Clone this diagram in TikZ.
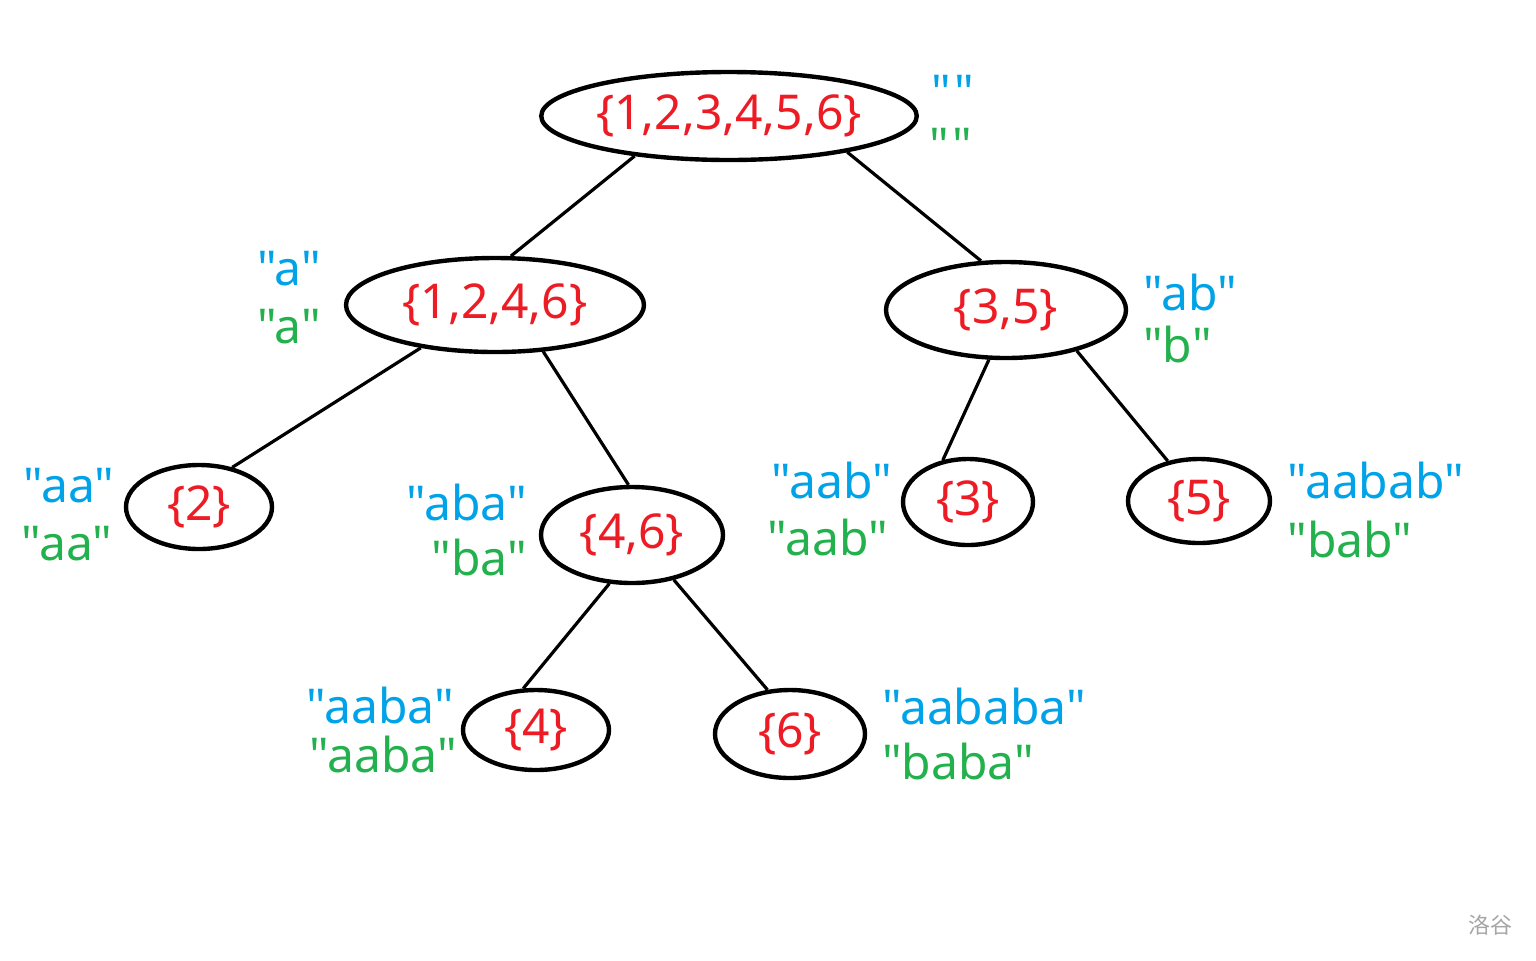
\documentclass[tikz,border=0pt]{standalone}
\usepackage{fontspec}
\setmainfont[Ligatures=TeXOff]{Noto Sans}
\newfontfamily\cjk{Noto Sans CJK SC}
\usetikzlibrary{shapes.geometric}
\definecolor{pred}{HTML}{ED1C24}
\definecolor{pblue}{HTML}{00A2E8}
\definecolor{pgreen}{HTML}{22B14C}
\begin{document}
\begin{tikzpicture}[x=0.5pt,y=-0.5pt,
  setnode/.style={ellipse,draw=black,line width=2.2pt,inner sep=0pt,text=pred,font=\fontsize{24}{28}\selectfont},
  edge/.style={line width=1.6pt},
  blab/.style={text=pblue,font=\fontsize{24}{28}\selectfont,inner sep=0pt,anchor=base},
  glab/.style={text=pgreen,font=\fontsize{24}{28}\selectfont,inner sep=0pt,anchor=base}]
\useasboundingbox[fill=white] (0,0) rectangle (1536,960);

% set nodes (minimum sizes in pt = pixel diameters / 2)
\node[setnode,minimum width=181pt,minimum height=44pt] (root) at (729,116) {\{1,2,3,4,5,6\}};
\node[setnode,minimum width=149pt,minimum height=47pt] (l) at (495,305) {\{1,2,4,6\}};
\node[setnode,minimum width=120pt,minimum height=48pt] (r) at (1006,310) {\{3,5\}};
\node[setnode,minimum width=73pt,minimum height=42pt] (n2) at (199,507) {\{2\}};
\node[setnode,minimum width=91pt,minimum height=48pt] (n46) at (632,535) {\{4,6\}};
\node[setnode,minimum width=65pt,minimum height=43pt] (n3) at (968,502) {\{3\}};
\node[setnode,minimum width=71pt,minimum height=42pt] (n5) at (1199,501) {\{5\}};
\node[setnode,minimum width=73pt,minimum height=40pt] (n4) at (536,730) {\{4\}};
\node[setnode,minimum width=75pt,minimum height=44pt] (n6) at (790,734) {\{6\}};

% edges
\draw[edge] (root.203) -- (l.72);
\draw[edge] (root.-17) -- (r.117);
\draw[edge] (l.-150) -- (n2.50);
\draw[edge] (l.-44) -- (n46.94);
\draw[edge] (r.-109) -- (n3.121);
\draw[edge] (r.-30) -- (n5.128);
\draw[edge] (n46.-115) -- (n4.107);
\draw[edge] (n46.-47) -- (n6.117);

% labels
\node[blab] (q0b) at (953,109) {"\kern2pt"};
\node[glab] (q0g) at (951,162) {"\kern2pt"};
\node[blab] (qlb) at (289,285) {"a"};
\node[glab] (qlg) at (289,343) {"a"};
\node[blab,anchor=base west] (qrb) at (1143,310) {"ab"};
\node[glab,anchor=base west] (qrg) at (1143,362) {"b"};
\node[blab] (q2b) at (69,502) {"aa"};
\node[glab] (q2g) at (67,560) {"aa"};
\node[blab,anchor=base east] (q46b) at (527,520) {"aba"};
\node[glab,anchor=base east] (q46g) at (527,575) {"ba"};
\node[blab] (q3b) at (832,498) {"aab"};
\node[glab] (q3g) at (828,555) {"aab"};
\node[blab,anchor=base west] (q5b) at (1287,498) {"aabab"};
\node[glab,anchor=base west] (q5g) at (1287,557) {"bab"};
\node[blab] (q4b) at (380,723) {"aaba"};
\node[glab] (q4g) at (383,772) {"aaba"};
\node[blab,anchor=base west] (q6b) at (882,724) {"aababa"};
\node[glab,anchor=base west] (q6g) at (882,779) {"baba"};

% watermark
\node[text=gray!70,font=\cjk\fontsize{11}{13}\selectfont] (wm) at (1490,925) {洛谷};
\end{tikzpicture}
\end{document}
